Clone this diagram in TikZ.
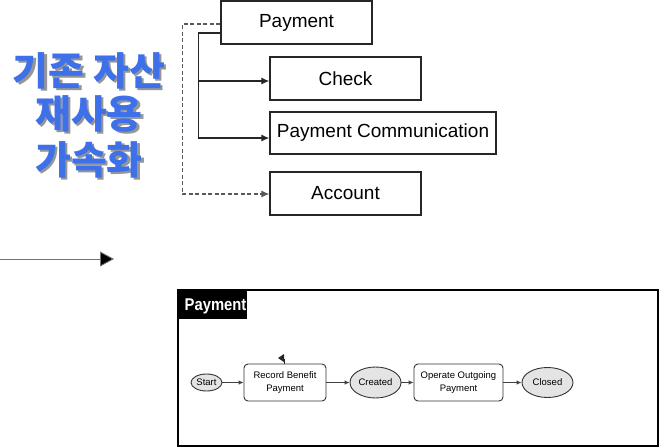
\documentclass[tikz,border=0pt]{standalone}
\usepackage{fontspec}
\setmainfont{Liberation Sans}
\newfontfamily\kofont{Noto Sans CJK KR}
\newfontfamily\narrowsans[FakeStretch=0.87]{Liberation Sans}
\usetikzlibrary{arrows.meta,shapes.geometric,calc}
\definecolor{koblue}{RGB}{62,112,234}
\definecolor{shadowgray}{RGB}{150,150,150}
\definecolor{statefill}{RGB}{228,228,228}
\newcommand{\shadowtext}[1]{\rlap{\hspace{2.5pt}\raisebox{-2.5pt}{\textcolor{shadowgray}{#1}}}\textcolor{koblue}{#1}}
\tikzset{
  topbox/.style={draw=black!85,line width=1.3pt,inner sep=0pt,font=\fontsize{19}{22}\selectfont},
  conn/.style={draw=black!85,line width=1.2pt,-{Latex[length=8pt,width=7pt]}},
  dconn/.style={draw=black!65,line width=1.1pt,dash pattern=on 4pt off 2.5pt,-{Latex[length=8pt,width=7pt]}},
  kotext/.style={font=\kofont\bfseries\fontsize{39}{44}\selectfont,inner sep=0pt},
  state/.style={ellipse,draw=black!80,line width=0.9pt,fill=statefill,inner sep=0pt,font=\fontsize{9.5}{12}\selectfont},
  activity/.style={rectangle,rounded corners=4pt,draw=black!80,line width=0.9pt,fill=white,inner sep=0pt,align=center,font=\fontsize{9.5}{12.5}\selectfont},
  sarr/.style={draw=black!75,line width=0.9pt,-{Latex[length=5pt,width=4.5pt]}}
}
\begin{document}
\begin{tikzpicture}[x=1pt,y=-1pt]
\useasboundingbox (0,0) rectangle (666,447);
% Korean text with shadow
\node[kotext] (k1) at (89,72) {\shadowtext{기존 자산}};
\node[kotext] (k2) at (89,115) {\shadowtext{재사용}};
\node[kotext] (k3) at (89,161) {\shadowtext{가속화}};
% top hierarchy
\node[topbox,minimum width=151pt,minimum height=43pt] (pay) at (296.5,22.5) {Payment};
\node[topbox,minimum width=151pt,minimum height=43pt] (chk) at (345.5,78.5) {Check};
\node[topbox,minimum width=226pt,minimum height=42pt] (pc) at (383,133) {Payment Communication};
\node[topbox,minimum width=151pt,minimum height=43pt] (acc) at (345.5,193.5) {Account};
\draw[conn] ($(pay.west)+(0,10.5)$) -| ($(pc.west)+(-71,5)$) -- ($(pc.west)+(0,5)$);
\draw[conn] ($(chk.west)+(-71,2.5)$) -- (chk.west |- 0,81);
\draw[dconn] ($(pay.west)+(0,1.5)$) -| ($(acc.west)+(-87,0.5)$) -- ($(acc.west)+(0,0.5)$);
% long arrow
\coordinate (la) at (0,259);
\coordinate (lb) at (114,259);
\draw[draw=black!55,line width=0.9pt,-{Triangle[length=14pt,width=15pt,fill=black]}] (la) -- (lb);
% bottom frame
\node[draw=black,line width=1.8pt,minimum width=480pt,minimum height=156pt,inner sep=0pt] (frame) at (418,368) {};
\fill[black] (frame.north west) rectangle ++(70,30);
\node[anchor=west,text=white,font=\narrowsans\bfseries\fontsize{17}{20}\selectfont,inner sep=0pt] (hdr) at (184.5,306) {Payment};
% states
\node[state,minimum width=31pt,minimum height=17pt] (st) at (206.5,382.5) {Start};
\node[activity,minimum width=82pt,minimum height=37pt] (rb) at (285,382.5) {Record Benefit\\Payment};
\node[state,minimum width=51pt,minimum height=31pt] (cr) at (375.5,382.5) {Created};
\node[activity,minimum width=89pt,minimum height=37pt] (op) at (458.5,382.5) {Operate Outgoing\\Payment};
\node[state,minimum width=51pt,minimum height=30pt] (cl) at (547.5,382.5) {Closed};
\draw[sarr] (st) -- (rb);
\draw[sarr] (rb) -- (cr);
\draw[sarr] (cr) -- (op);
\draw[sarr] (op) -- (cl);
% small arrowhead above Record Benefit Payment
\fill[black!85] ($(rb.north)+(-7,-5.5)$) -- ($(rb.north)+(-1,-9.5)$) -- ($(rb.north)+(-1,-1.5)$) -- cycle;
\draw[black!85,line width=0.8pt] ($(rb.north)+(-1,-5)$) -- ($(rb.north)+(-1,0)$);
\end{tikzpicture}
\end{document}
